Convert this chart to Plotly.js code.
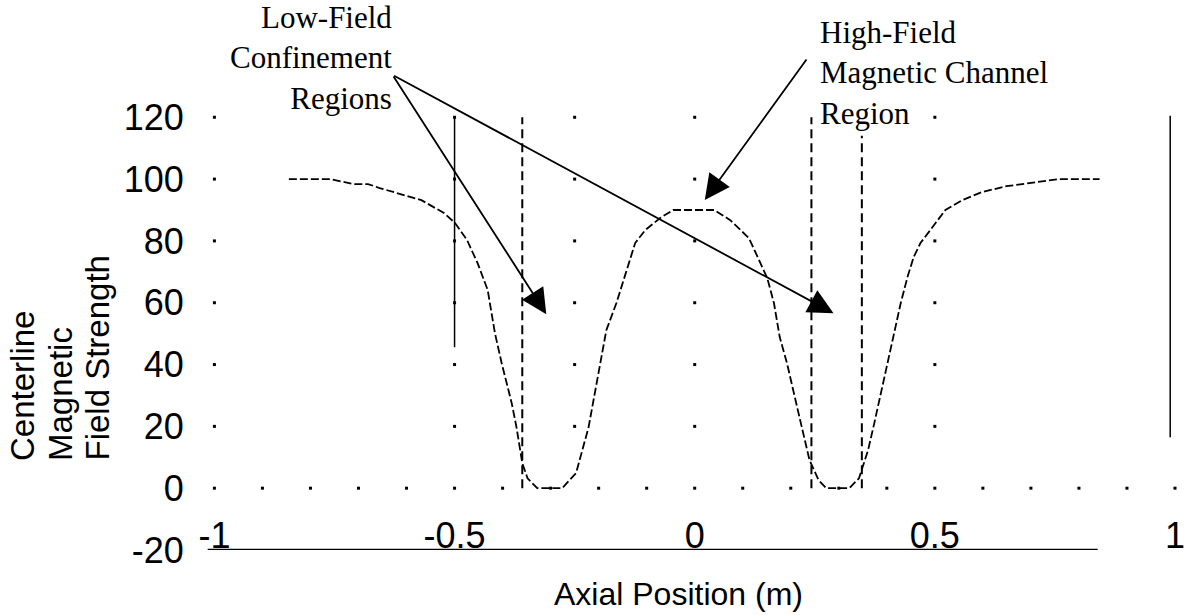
<!DOCTYPE html>
<html><head><meta charset="utf-8">
<script src="https://cdn.plot.ly/plotly-3.0.1.min.js"></script>
<style>html,body{margin:0;padding:0;background:#fff}#chart{width:1187px;height:615px}</style>
</head><body><div id="chart"></div>
<script>
// Centerline field profile
const curveX = [-0.845,-0.759,-0.711,-0.680,-0.656,-0.569,-0.522,-0.499,-0.474,-0.452,-0.431,-0.416,-0.402,-0.381,-0.371,-0.359,-0.348,-0.328,-0.276,-0.247,-0.221,-0.196,-0.184,-0.163,-0.144,-0.124,-0.103,-0.072,-0.045,0.041,0.074,0.113,0.134,0.151,0.165,0.177,0.192,0.206,0.223,0.239,0.258,0.274,0.322,0.342,0.361,0.373,0.392,0.402,0.419,0.429,0.443,0.456,0.470,0.495,0.522,0.557,0.598,0.649,0.707,0.759,0.843];
const curveY = [100,100,98.4,98.4,97.1,93.2,89.0,85.8,80.3,72.8,64.1,50.2,40.5,27.5,19.7,8.1,3.2,0,0,4.9,19.7,40.5,51.1,59.9,69.6,79.3,83.5,87.4,90.0,90.0,86.7,80.9,73.8,68.0,59.9,48.9,40.5,30.7,19.7,9.1,2.6,0,0,3.2,12.3,20.4,34.0,40.5,53.4,59.9,68.3,74.8,79.3,84.5,90.0,93.2,95.8,97.7,99.0,100,100];

const xTickVals = [-1,-0.5,0,0.5,1];
const xTickText = ['-1','-0.5','0','0.5','1'];
const yTickVals = [-20,0,20,40,60,80,100,120];
const yTickText = ['-20','0','20','40','60','80','100','120'];

// vertical region markers
const markerX = [-0.5,-0.359,0.243,0.348,0.99];
const markerTop = [120,120,120,114,120.5];
const markerBottom = [45.6,0,0,0,16.5];
const markerDashed = [false,true,true,true,false];

// dotted grid
const gridColsX = [-1,-0.5,-0.25,0,0.5];
const gridRowsY = [20,40,60,80,100,120];
const baseDotsX = [-1,-0.9,-0.8,-0.7,-0.6,-0.5,-0.4,-0.3,-0.2,-0.1,0,0.1,0.2,0.3,0.4,0.5,0.6,0.7,0.8,0.9,1];
const baseRowY = 0;

// bottom rule
const ruleX = [-1.014,0.839];
const ruleY = [-20,-20];

// arrows
const arrowTailX = [-0.629,-0.629,0.235];
const arrowTailY = [133.7,133.7,139.2];
const arrowHeadX = [-0.309,0.289,0.021];
const arrowHeadY = [56.3,56.6,93.2];

const labelLow = ['Low-Field','Confinement','Regions'];
const labelHigh = ['High-Field','Magnetic Channel','Region'];
const yTitleLines = ['Centerline','Magnetic','Field Strength'];
const xTitle = 'Axial Position (m)';

// layout geometry
const L = 200, T = 108, W = 975, H = 442;
const px2x = p => (p - L) / W;
const px2y = p => 1 - (p - T) / H;

const traces = [];
// grid dots
const gx = [], gy = [];
gridRowsY.forEach(r => gridColsX.forEach(c => { gx.push(c); gy.push(r); }));
baseDotsX.forEach(c => { gx.push(c); gy.push(baseRowY); });
traces.push({x: gx, y: gy, mode: 'markers', type: 'scatter', hoverinfo: 'skip',
  marker: {symbol: 'square', size: 3, color: '#000'}, cliponaxis: false});
// markers
markerX.forEach((v, i) => {
  traces.push({x: [v, v], y: [markerBottom[i], markerTop[i]], mode: 'lines', type: 'scatter',
    line: {color: '#000', width: markerDashed[i] ? 2 : 1.5, dash: markerDashed[i] ? '9px,5px' : 'solid'},
    hoverinfo: 'skip', cliponaxis: false});
});
// rule
traces.push({x: ruleX, y: ruleY, mode: 'lines', type: 'scatter', line: {color: '#000', width: 2.5},
  hoverinfo: 'skip', cliponaxis: false});
// curve
traces.push({x: curveX, y: curveY, mode: 'lines', type: 'scatter', line: {color: '#000', width: 1.8, dash: '8px,3px'},
  cliponaxis: false});

const annotations = [];
arrowHeadX.forEach((hx, i) => {
  annotations.push({x: hx, y: arrowHeadY[i], ax: arrowTailX[i], ay: arrowTailY[i],
    xref: 'x', yref: 'y', axref: 'x', ayref: 'y', text: '', showarrow: true,
    arrowhead: 2, arrowsize: 2.8, arrowwidth: 1.8, arrowcolor: '#000', standoff: 0});
});
const serif = {family: 'Liberation Serif, Times New Roman, serif', size: 31, color: '#000'};
annotations.push({xref: 'paper', yref: 'paper', x: px2x(394), y: px2y(58), xanchor: 'right', yanchor: 'middle',
  align: 'right', text: labelLow.join('<br>'), showarrow: false, font: serif});
annotations.push({xref: 'paper', yref: 'paper', x: px2x(818), y: px2y(73), xanchor: 'left', yanchor: 'middle',
  align: 'left', text: labelHigh.join('<br>'), showarrow: false, font: serif});
const ytx = [22, 60, 97];
yTitleLines.forEach((t, i) => {
  annotations.push({xref: 'paper', yref: 'paper', x: px2x(ytx[i]), y: px2y(463), xanchor: 'center', yanchor: 'bottom',
    textangle: -90, text: t, showarrow: false, font: {family: 'Liberation Sans, Arial, sans-serif', size: 33, color: '#000'}});
});
annotations.push({xref: 'paper', yref: 'paper', x: px2x(678), y: px2y(614), xanchor: 'center', yanchor: 'bottom',
  text: xTitle, showarrow: false, font: {family: 'Liberation Sans, Arial, sans-serif', size: 32, color: '#000'}});

const layout = {
  width: 1187, height: 615,
  margin: {l: L, r: 1187 - L - W, t: T, b: 615 - T - H},
  paper_bgcolor: '#fff', plot_bgcolor: '#fff',
  showlegend: false,
  font: {family: 'Liberation Sans, Arial, sans-serif', color: '#000'},
  xaxis: {range: [-1.03, 1.0], tickvals: xTickVals, ticktext: xTickText, ticklabelposition: 'inside',
    ticklabeloverflow: 'allow', ticklabelstandoff: -8, showgrid: false, zeroline: false, showline: false, ticks: '',
    tickfont: {size: 36, color: '#000'}},
  yaxis: {range: [-20, 123], tickvals: yTickVals, ticktext: yTickText, showgrid: false, zeroline: false,
    showline: false, ticks: 'outside', ticklen: 8, tickcolor: 'rgba(0,0,0,0)',
    tickfont: {size: 36, color: '#000'}},
  annotations: annotations
};
Plotly.newPlot('chart', traces, layout, {staticPlot: true, displayModeBar: false});
</script></body></html>
